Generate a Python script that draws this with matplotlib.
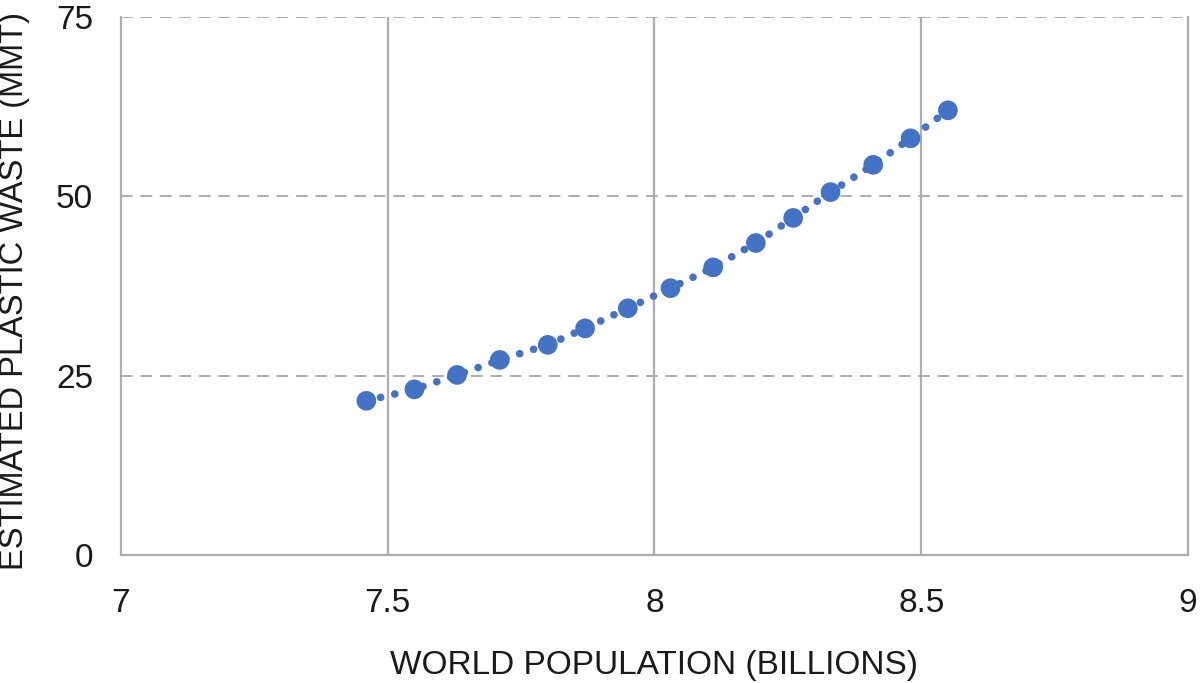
import matplotlib
matplotlib.use("Agg")
import matplotlib.pyplot as plt

population = [7.46, 7.55, 7.63, 7.71, 7.80, 7.87, 7.95, 8.03, 8.11, 8.19, 8.26, 8.33, 8.41, 8.48, 8.55]
waste = [21.5, 23.1, 25.1, 27.2, 29.3, 31.6, 34.4, 37.2, 40.1, 43.5, 47.0, 50.6, 54.4, 58.1, 62.0]
x_ticks = [7, 7.5, 8, 8.5, 9]
x_tick_labels = ["7", "7.5", "8", "8.5", "9"]
y_ticks = [0, 25, 50, 75]

plt.rcParams['font.family'] = ['Liberation Sans', 'DejaVu Sans']
color = "#4472C4"
grid_c = "#ADADAD"
text_c = "#1a1a1a"

fig = plt.figure(figsize=(12, 6.83), dpi=100)
ax = fig.add_axes([0.1008, 0.1874, 0.8892, 0.7876])

ax.plot(population, waste, linestyle=(0, (0.01, 1.9)), lw=5.5, color=color,
        dash_capstyle='round', zorder=2)
ax.scatter(population, waste, s=200, color=color, zorder=3, edgecolors='none')

ax.set_xlim(7, 9)
ax.set_ylim(0, 75)
ax.set_xticks(x_ticks)
ax.set_xticklabels(x_tick_labels)
ax.set_yticks(y_ticks)

for v in x_ticks[1:-1]:
    ax.axvline(v, color=grid_c, lw=1.6, zorder=1)
for v in y_ticks[1:]:
    ax.axhline(v, color=grid_c, lw=1.4, ls=(0, (6, 4)), zorder=1)

for s in ['left', 'bottom', 'right']:
    ax.spines[s].set_color(grid_c)
    ax.spines[s].set_linewidth(1.6)
ax.spines['top'].set_visible(False)

ax.tick_params(axis='both', length=0, labelsize=24, colors=text_c)
ax.tick_params(axis='x', pad=24)
ax.tick_params(axis='y', pad=20)

ax.set_xlabel("WORLD POPULATION (BILLIONS)", fontsize=24, color=text_c, labelpad=22)
ax.set_ylabel("ESTIMATED PLASTIC WASTE (MMT)", fontsize=23.5, color=text_c, labelpad=20)
ax.yaxis.set_label_coords(-0.085, 0.49)

fig.savefig("out.png", dpi=100)
